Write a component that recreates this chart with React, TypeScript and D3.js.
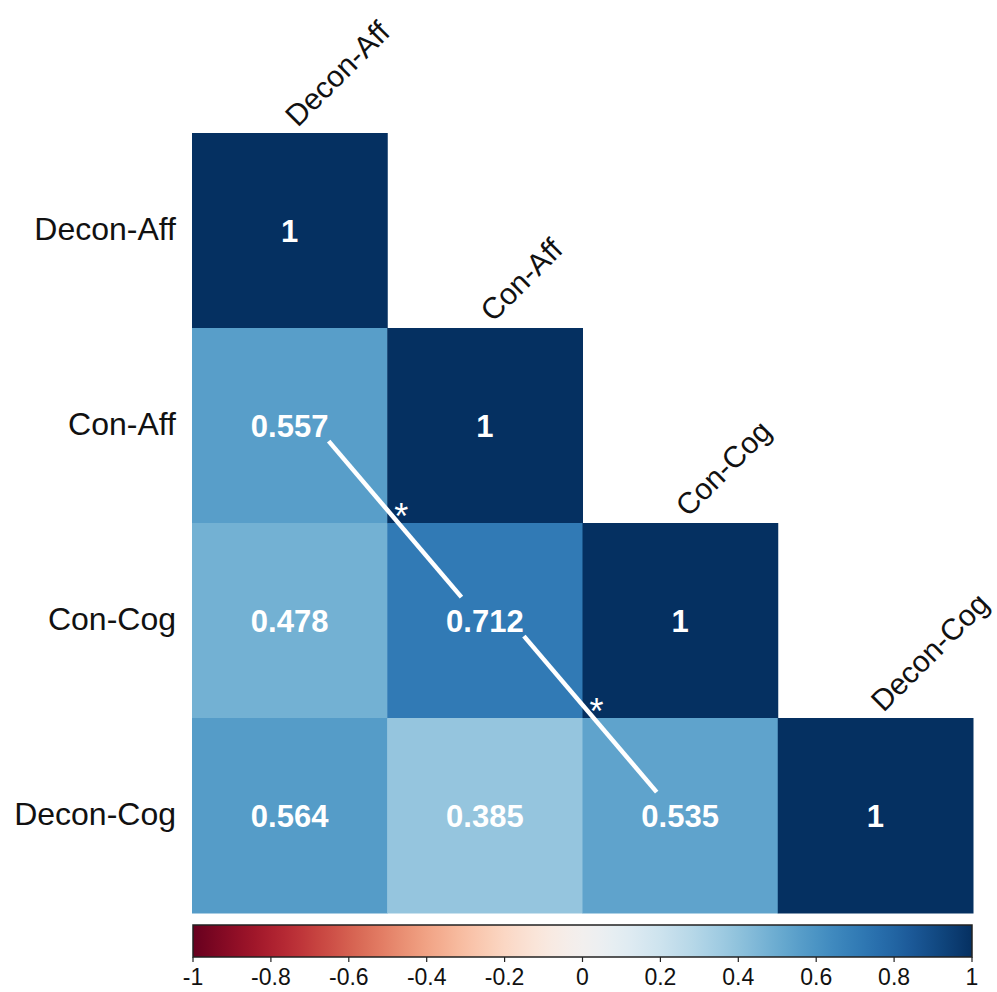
import React from "react";
import * as d3 from "d3";

const variables = ["Decon-Aff", "Con-Aff", "Con-Cog", "Decon-Cog"];
// lower-triangle correlation rows (row i has i+1 values)
const corrRows: number[][] = [
  [1],
  [0.557, 1],
  [0.478, 0.712, 1],
  [0.564, 0.385, 0.535, 1],
];
const colorbarTicks = [-1, -0.8, -0.6, -0.4, -0.2, 0, 0.2, 0.4, 0.6, 0.8, 1];
// significant links between cells: [row, col] -> [row, col]
const sigLinks: [[number, number], [number, number]][] = [
  [[1, 0], [2, 1]],
  [[2, 1], [3, 2]],
];

const W = 997;
const H = 992;
const left = 192;
const right = 973;
const top = 133;
const bottom = 913;

export default function App() {
  const x = d3.scaleBand<number>().domain(d3.range(4)).range([left, right]);
  const y = d3.scaleBand<number>().domain(d3.range(4)).range([top, bottom]);
  const color = (v: number) => d3.interpolateRdBu((v + 1) / 2);
  const cb = d3.scaleLinear().domain([-1, 1]).range([193, 972]);
  const cbTop = 925;
  const cbBottom = 957;
  const bw = x.bandwidth();
  const bh = y.bandwidth();
  const stops = d3.range(0, 1.0001, 0.02);
  const font = "Liberation Sans, Arial, Helvetica, sans-serif";

  return (
    <svg
      width={W}
      height={H}
      style={{ position: "absolute", left: 0, top: 0, background: "#fff" }}
      fontFamily={font}
    >
      <defs>
        <linearGradient id="rdbu" x1="0" x2="1" y1="0" y2="0">
          {stops.map((t) => (
            <stop key={t} offset={t} stopColor={d3.interpolateRdBu(t)} />
          ))}
        </linearGradient>
      </defs>

      {corrRows.map((row, i) =>
        row.map((v, j) => (
          <g key={`${i}-${j}`}>
            <rect
              x={x(j)!}
              y={y(i)!}
              width={bw + 0.5}
              height={bh + 0.5}
              fill={color(v)}
            />
            <text
              x={x(j)! + bw / 2}
              y={y(i)! + bh / 2}
              dy="0.36em"
              textAnchor="middle"
              fill="#fff"
              fontWeight="bold"
              fontSize={31}
            >
              {String(v)}
            </text>
          </g>
        ))
      )}

      {/* row labels */}
      {variables.map((name, i) => (
        <text
          key={`r-${name}`}
          x={176}
          y={y(i)! + bh / 2}
          dy="0.3em"
          textAnchor="end"
          fontSize={32}
          fill="#111"
        >
          {name}
        </text>
      ))}

      {/* column labels on the diagonal */}
      {variables.map((name, j) => {
        const px = x(j)! + bw / 2 + 8;
        const py = y(j)! - 5;
        return (
          <text
            key={`c-${name}`}
            transform={`translate(${px},${py}) rotate(-45)`}
            fontSize={30}
            fill="#111"
          >
            {name}
          </text>
        );
      })}

      {/* significance connectors */}
      {sigLinks.map(([[r1, c1], [r2, c2]], k) => {
        const x1 = x(c1)! + bw * 0.7;
        const y1 = y(r1)! + bh * 0.58;
        const x2 = x(c2)! + bw * 0.38;
        const y2 = y(r2)! + bh * 0.38;
        const sx = x(c2)! + 14;
        const sy = y(r2)! + 6;
        return (
          <g key={`l-${k}`}>
            <line x1={x1} y1={y1} x2={x2} y2={y2} stroke="#fff" strokeWidth={4.5} />
            <text x={sx} y={sy} textAnchor="middle" fill="#fff" fontSize={36}>
              *
            </text>
          </g>
        );
      })}

      {/* colour bar */}
      <rect
        x={cb(-1)}
        y={cbTop}
        width={cb(1) - cb(-1)}
        height={cbBottom - cbTop}
        fill="url(#rdbu)"
        stroke="#222"
        strokeWidth={1.5}
      />
      {colorbarTicks.map((t) => (
        <g key={`t-${t}`}>
          <line x1={cb(t)} x2={cb(t)} y1={cbBottom} y2={cbBottom + 5} stroke="#222" strokeWidth={1.2} />
          <text x={cb(t)} y={985} textAnchor="middle" fontSize={23} fill="#111">
            {String(t)}
          </text>
        </g>
      ))}
    </svg>
  );
}
